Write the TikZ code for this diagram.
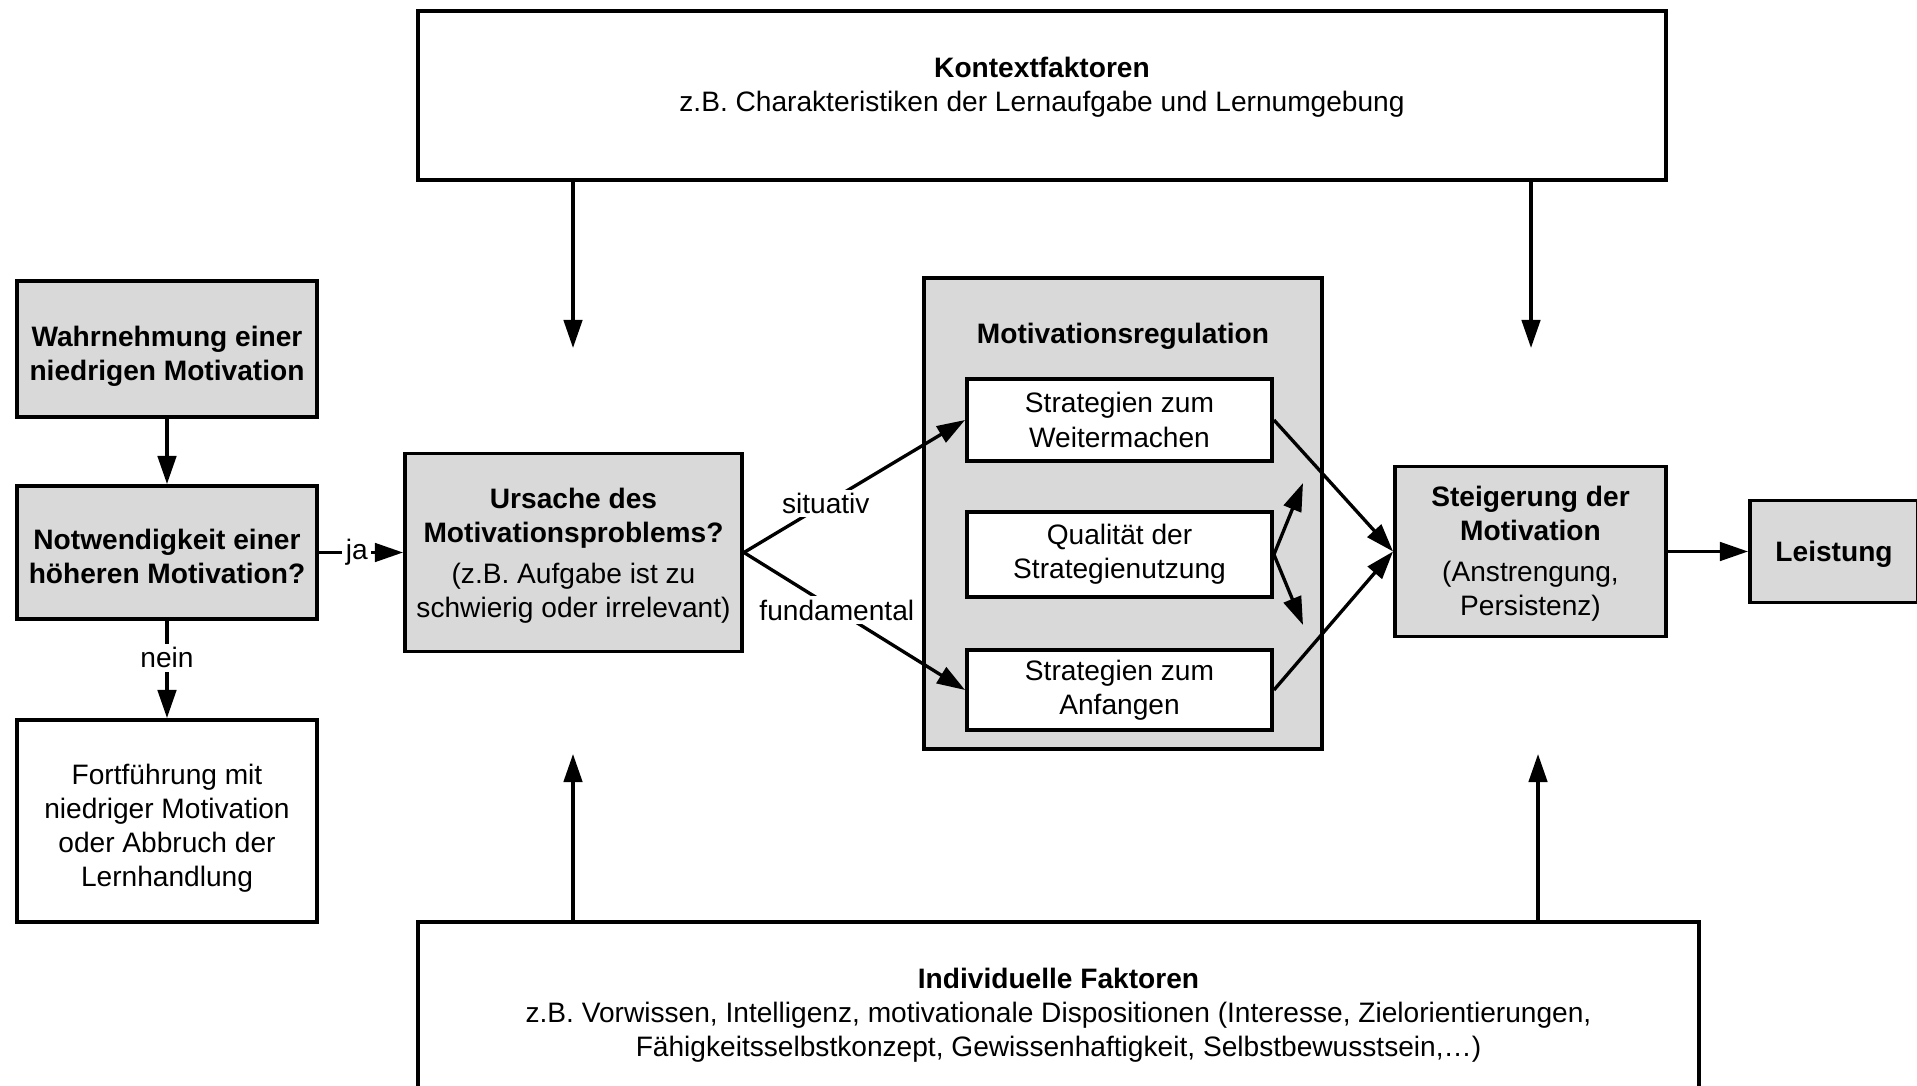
\documentclass[tikz,border=0pt]{standalone}
\usepackage{fontspec}
\setmainfont{Liberation Sans}
\usetikzlibrary{arrows.meta}

\definecolor{boxgray}{RGB}{217,217,217}

% unsichtbare Stuetze, schiebt den Text etwas nach unten
\newcommand{\senk}[1]{\rule{0pt}{#1}}

\tikzset{
    box/.style={draw, line width=2.2pt, align=center, inner sep=0pt,
        font=\fontsize{16}{19.4}\selectfont},
    graybox/.style={box, fill=boxgray},
    fettbox/.style={graybox, font=\fontsize{16}{19.4}\selectfont\bfseries},
    pfeil/.style={line width=1.9pt, -{Triangle[length=16pt,width=10.5pt]}},
    lbl/.style={fill=white, inner sep=2pt, font=\fontsize{16}{19.4}\selectfont},
    txt/.style={align=center, inner sep=0pt, font=\fontsize{16}{19.4}\selectfont}
}

\begin{document}
\begin{tikzpicture}
        \useasboundingbox (0,0) rectangle (38.34,21.70);
        
        % Kontext oben
        \node[box, minimum width=24.96cm, minimum height=3.38cm] (kontext) at (20.84,19.79) {};
        \node[txt] (kontextlbl) at (20.84,19.96) {\textbf{Kontextfaktoren}\\z.B. Charakteristiken der Lernaufgabe und Lernumgebung};
        
        % linke Spalte
        \node[fettbox, minimum width=6cm, minimum height=2.72cm] (wahr) at (3.34,14.72) {\senk{20pt}Wahrnehmung einer\\niedrigen Motivation};
        \node[fettbox, minimum width=6cm, minimum height=2.66cm] (notw) at (3.34,10.65) {\senk{16pt}Notwendigkeit einer\\höheren Motivation?};
        \node[box, minimum width=6cm, minimum height=4.04cm] (fort) at (3.34,5.28) {\senk{20pt}Fortführung mit\\niedriger Motivation\\oder Abbruch der\\Lernhandlung};
        
        \node[graybox, minimum width=6.74cm, minimum height=3.96cm] (ursache) at (11.47,10.65) {\senk{15pt}\textbf{Ursache des}\\\textbf{Motivationsproblems?}\\[4pt](z.B. Aufgabe ist zu\\schwierig oder irrelevant)};
        
        % Motivationsregulation
        \node[graybox, minimum width=7.96cm, minimum height=9.42cm] (motreg) at (22.46,11.43) {};
        \node[txt, font=\fontsize{16}{19.4}\selectfont\bfseries] (motreglbl) at (22.46,14.97) {Motivationsregulation};
        \node[box, fill=white, minimum width=6.10cm, minimum height=1.64cm] (weiter) at (22.39,13.30) {Strategien zum\\Weitermachen};
        \node[box, fill=white, minimum width=6.10cm, minimum height=1.70cm] (qual) at (22.39,10.61) {Qualität der\\Strategienutzung};
        \node[box, fill=white, minimum width=6.10cm, minimum height=1.60cm] (anfang) at (22.39,7.90) {Strategien zum\\Anfangen};
        
        \node[graybox, minimum width=5.42cm, minimum height=3.40cm] (steig) at (30.61,10.67) {\senk{14pt}\textbf{Steigerung der}\\\textbf{Motivation}\\[4pt](Anstrengung,\\Persistenz)};
        \node[fettbox, minimum width=3.36cm, minimum height=2.04cm] (leist) at (36.68,10.67) {\senk{14.5pt}Leistung};
        
        % Individuelle Faktoren unten
        \node[box, minimum width=25.62cm, minimum height=3.46cm] (indiv) at (21.17,1.53) {};
        \node[txt] (indivlbl) at (21.17,1.39) {\textbf{Individuelle Faktoren}\\z.B. Vorwissen, Intelligenz, motivationale Dispositionen (Interesse, Zielorientierungen,\\Fähigkeitsselbstkonzept, Gewissenhaftigkeit, Selbstbewusstsein,…)};
        
        \coordinate (kpfeila) at (11.46,14.74);
        \coordinate (kpfeilb) at (30.62,14.74);
        \coordinate (ipfeila) at (11.46,6.62);
        \coordinate (ipfeilb) at (30.76,6.62);
        \coordinate (qoben) at (26.06,12.04);
        \coordinate (qunten) at (26.06,9.20);
        
        % Pfeile
        \draw[pfeil] (wahr) -- (notw);
        \draw[pfeil] (notw) -- node[lbl, pos=0.38] {nein} (fort);
        \draw[pfeil] (notw.east) -- node[lbl, pos=0.45] {ja} (ursache.west);
        \draw[pfeil] (ursache.east) -- node[lbl, pos=0.37] {situativ} (weiter.west);
        \draw[pfeil] (ursache.east) -- node[lbl, pos=0.42] {fundamental} (anfang.west);
        \draw[pfeil] (weiter.east) -- (steig.west);
        \draw[pfeil] (anfang.east) -- (steig.west);
        \draw[pfeil] (qual.east) -- (qoben);
        \draw[pfeil] (qual.east) -- (qunten);
        \draw[pfeil] (steig) -- (leist);
        
        \draw[pfeil] (kontext.south -| kpfeila) -- (kpfeila);
        \draw[pfeil] (kontext.south -| kpfeilb) -- (kpfeilb);
        \draw[pfeil] (indiv.north -| ipfeila) -- (ipfeila);
        \draw[pfeil] (indiv.north -| ipfeilb) -- (ipfeilb);
    \end{tikzpicture}
\end{document}
